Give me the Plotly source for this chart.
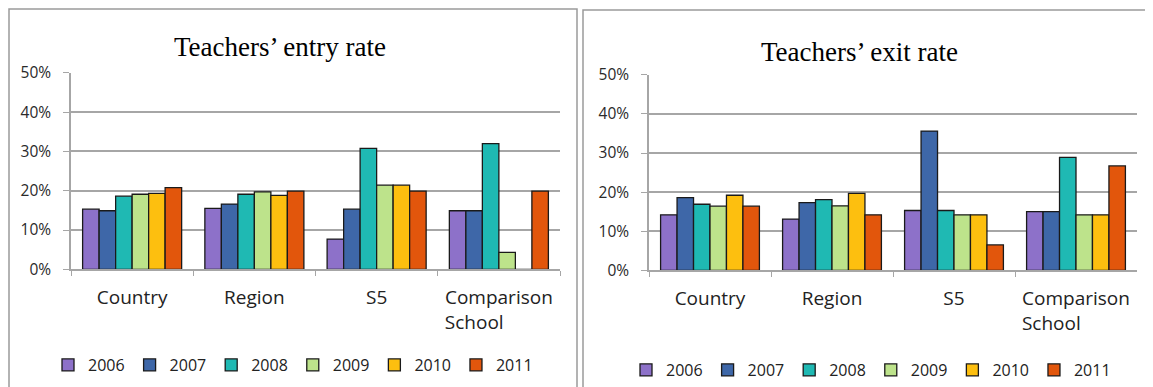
import plotly.graph_objects as go

W, H = 1153, 387
OFF = 8  # default body margin of the html page
FW, FH = W - OFF, H - OFF

categories = ["Country", "Region", "S5", "Comparison<br>School" + "\u00a0" * 10]
years = ["2006", "2007", "2008", "2009", "2010", "2011"]
colors = ["#8d71c9", "#3e67a8", "#1fb9b3", "#bde38b", "#fdbf0f", "#e2560c"]

# rows = years, columns = categories (percent)
entry_rate = [
    [15.3, 15.5, 7.7, 14.9],
    [14.9, 16.6, 15.3, 14.9],
    [18.6, 19.1, 30.8, 32.0],
    [19.1, 19.7, 21.4, 4.3],
    [19.3, 18.8, 21.4, 0.0],
    [20.8, 19.9, 19.9, 19.9],
]
exit_rate = [
    [14.2, 13.1, 15.3, 15.0],
    [18.6, 17.3, 35.6, 15.0],
    [16.9, 18.1, 15.3, 28.9],
    [16.4, 16.5, 14.2, 14.2],
    [19.2, 19.7, 14.2, 14.2],
    [16.4, 14.2, 6.5, 26.7],
]


def px(x):
    return (x - OFF) / FW


def py(y):
    return 1 - (y - OFF) / FH


fig = go.Figure()
for i, yr in enumerate(years):
    bar_style = dict(color=colors[i], line=dict(color="#1a1a1a", width=1.3))
    fig.add_trace(go.Bar(x=categories, y=entry_rate[i], name=yr, marker=bar_style,
                         xaxis="x", yaxis="y", legend="legend"))
    fig.add_trace(go.Bar(x=categories, y=exit_rate[i], name=yr, marker=bar_style,
                         xaxis="x2", yaxis="y2", legend="legend2"))

grid = "#a6a6a6"
xstyle = dict(type="category", tickson="boundaries", ticks="outside", ticklen=5,
              tickcolor=grid, showline=True, linecolor=grid, linewidth=1.5,
              tickfont=dict(family="Open Sans", size=19, color="#222"),
              ticklabelstandoff=10, automargin=False)
ystyle = dict(range=[0, 50], dtick=10, ticksuffix="%", ticks="outside", ticklen=6,
              tickcolor=grid, showline=True, linecolor=grid, linewidth=1.5,
              showgrid=True, gridcolor=grid, gridwidth=1.5, zeroline=False,
              tickfont=dict(family="Open Sans", size=15.5, color="#2a2a2a"),
              ticklabelstandoff=9, automargin=False)

legend_style = dict(orientation="h", xanchor="center", yanchor="middle",
                    font=dict(family="Open Sans", size=16, color="#222"),
                    bgcolor="rgba(0,0,0,0)")

title_font = dict(family="Liberation Serif", size=27, color="black")

fig.update_layout(
    width=FW, height=FH,
    margin=dict(l=0, r=0, t=0, b=0),
    paper_bgcolor="white", plot_bgcolor="white",
    barmode="group", bargap=0.19, bargroupgap=0,
    xaxis=dict(domain=[px(71), px(560)], anchor="y", **xstyle),
    yaxis=dict(domain=[py(270), py(73)], anchor="x", **ystyle),
    xaxis2=dict(domain=[px(649), px(1137)], anchor="y2", **xstyle),
    yaxis2=dict(domain=[py(271), py(75)], anchor="x2", **ystyle),
    legend=dict(x=px(293), y=py(365), **legend_style),
    legend2=dict(x=px(871), y=py(371), **legend_style),
    annotations=[
        dict(text="Teachers’ entry rate", x=px(280), y=py(47), xref="paper", yref="paper",
             xanchor="center", yanchor="middle", showarrow=False, font=title_font),
        dict(text="Teachers’ exit rate", x=px(859), y=py(52), xref="paper", yref="paper",
             xanchor="center", yanchor="middle", showarrow=False, font=title_font),
    ],
    shapes=[
        dict(type="rect", xref="paper", yref="paper", x0=px(9), y0=py(9), x1=px(577), y1=-0.1,
             line=dict(color="#9a9a9a", width=1.5)),
        dict(type="rect", xref="paper", yref="paper", x0=px(583), y0=py(10), x1=1.05, y1=-0.1,
             line=dict(color="#9a9a9a", width=1.5)),
    ],
)

fig.write_html("out.html")
